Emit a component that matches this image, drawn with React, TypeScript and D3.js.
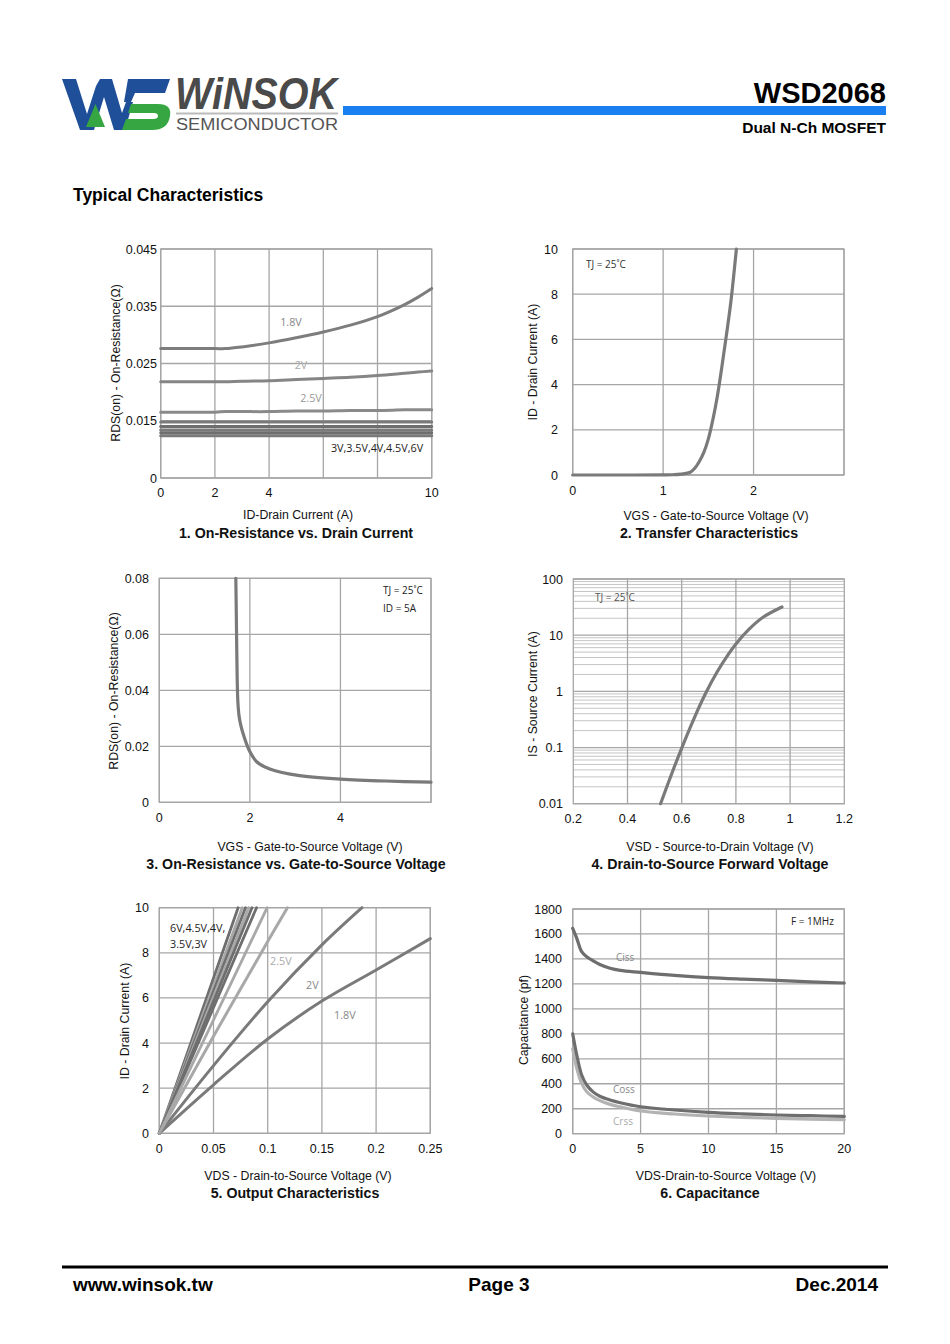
import React from 'react';
import * as d3 from 'd3';

// ---------- Chart 1: On-Resistance vs Drain Current ----------
const c1Current = [0, 1, 2, 2.4, 3, 4, 5, 6, 7, 8, 9, 9.5, 10];
const c1R18 = [0.0276, 0.0276, 0.0276, 0.0276, 0.0279, 0.0286, 0.0295, 0.0305, 0.0317, 0.0332, 0.0353, 0.0366, 0.0381];
const c1R20 = [0.0218, 0.0218, 0.0218, 0.0218, 0.0219, 0.022, 0.0222, 0.0224, 0.0226, 0.0229, 0.0233, 0.0235, 0.0237];
const c1R25 = [0.0165, 0.0165, 0.0165, 0.0166, 0.0166, 0.0166, 0.0167, 0.0167, 0.0168, 0.0168, 0.0169, 0.0169, 0.0169];
const c1R30 = [0.0148, 0.0148, 0.0148, 0.0148, 0.0148, 0.0148, 0.0148, 0.0148, 0.0148, 0.0148, 0.0148, 0.0148, 0.0148];
const c1R35 = [0.014, 0.014, 0.014, 0.014, 0.014, 0.014, 0.014, 0.014, 0.014, 0.014, 0.014, 0.014, 0.014];
const c1R40 = [0.0134, 0.0134, 0.0134, 0.0134, 0.0134, 0.0134, 0.0134, 0.0134, 0.0134, 0.0134, 0.0134, 0.0134, 0.0134];
const c1R45 = [0.0129, 0.0129, 0.0129, 0.0129, 0.0129, 0.0129, 0.0129, 0.0129, 0.0129, 0.0129, 0.0129, 0.0129, 0.0129];
const c1R60 = [0.0124, 0.0124, 0.0124, 0.0124, 0.0124, 0.0124, 0.0124, 0.0124, 0.0124, 0.0124, 0.0124, 0.0124, 0.0124];
const c1XTicks = [0, 2, 4, 10];
const c1XGrid = [0, 2, 4, 6, 8, 10];
const c1YTicks = [0.005, 0.015, 0.025, 0.035, 0.045];
const c1YLabels = ['0', '0.015', '0.025', '0.035', '0.045'];

// ---------- Chart 2: Transfer Characteristics ----------
const c2Vgs = [0, 0.5, 1.0, 1.1, 1.2, 1.3, 1.35, 1.4, 1.45, 1.5, 1.55, 1.6, 1.65, 1.7, 1.75, 1.81];
const c2Id = [0, 0, 0.005, 0.01, 0.04, 0.12, 0.3, 0.6, 1.0, 1.6, 2.45, 3.5, 4.8, 6.2, 7.7, 10];
const c2XTicks = [0, 1, 2];
const c2XGrid = [0, 1, 2, 3];
const c2YTicks = [0, 2, 4, 6, 8, 10];

// ---------- Chart 3: On-Resistance vs Gate-to-Source Voltage ----------
const c3Vgs = [1.69, 1.7, 1.71, 1.72, 1.735, 1.76, 1.8, 1.855, 1.93, 2.0, 2.15, 2.44, 3.1, 4.0, 5.0, 6.0];
const c3R = [0.08, 0.068, 0.055, 0.044, 0.036, 0.031, 0.0275, 0.0243, 0.0207, 0.0181, 0.0145, 0.0119, 0.0095, 0.0083, 0.0076, 0.0072];
const c3XTicks = [0, 2, 4];
const c3XGrid = [0, 2, 4, 6];
const c3YTicks = [0, 0.02, 0.04, 0.06, 0.08];
const c3YLabels = ['0', '0.02', '0.04', '0.06', '0.08'];

// ---------- Chart 4: Drain-to-Source Forward Voltage ----------
const c4Vsd = [0.522, 0.56, 0.6, 0.645, 0.687, 0.73, 0.772, 0.8, 0.846, 0.9, 0.97];
const c4Is = [0.01, 0.0312, 0.0977, 0.325, 0.897, 2.19, 4.56, 6.98, 12.4, 20.8, 31.7];
const c4XTicks = [0.2, 0.4, 0.6, 0.8, 1, 1.2];
const c4XLabels = ['0.2', '0.4', '0.6', '0.8', '1', '1.2'];
const c4YTicks = [0.01, 0.1, 1, 10, 100];
const c4YLabels = ['0.01', '0.1', '1', '10', '100'];

// ---------- Chart 5: Output Characteristics ----------
const c5Group = [
  { vds: [0, 0.0727], id: [0, 10], tone: 'dark' },
  { vds: [0, 0.0765], id: [0, 10], tone: 'light' },
  { vds: [0, 0.0795], id: [0, 10], tone: 'dark' },
  { vds: [0, 0.0825], id: [0, 10], tone: 'light' },
  { vds: [0, 0.0855], id: [0, 10], tone: 'dark' },
  { vds: [0, 0.0897], id: [0, 10], tone: 'dark' },
  { vds: [0, 0.0995], id: [0, 10], tone: 'light' },
];
const c5Vds25 = [0, 0.05, 0.1, 0.1182];
const c5Id25 = [0, 4.3, 8.5, 10];
const c5Vds20 = [0, 0.05, 0.1, 0.15, 0.187];
const c5Id20 = [0, 3.0, 5.83, 8.35, 10];
const c5Vds18 = [0, 0.05, 0.1, 0.15, 0.2, 0.25];
const c5Id18 = [0, 2.15, 4.18, 5.86, 7.24, 8.63];
const c5XTicks = [0, 0.05, 0.1, 0.15, 0.2, 0.25];
const c5XLabels = ['0', '0.05', '0.1', '0.15', '0.2', '0.25'];
const c5YTicks = [0, 2, 4, 6, 8, 10];

// ---------- Chart 6: Capacitance ----------
const c6Vds = [0, 0.3, 0.66, 1.03, 1.5, 2, 2.75, 3.5, 5, 7.5, 10, 12.5, 15, 17.5, 20];
const c6Ciss = [1645, 1565, 1458, 1418, 1385, 1355, 1325, 1308, 1292, 1268, 1250, 1238, 1228, 1217, 1207];
const c6Coss = [800, 630, 470, 390, 335, 300, 270, 248, 216, 190, 171, 159, 150, 144, 139];
const c6Crss = [680, 523, 403, 336, 295, 265, 235, 215, 182, 158, 142, 131, 123, 117, 112];
const c6XTicks = [0, 5, 10, 15, 20];
const c6YTicks = [0, 200, 400, 600, 800, 1000, 1200, 1400, 1600, 1800];

// ---------- styles ----------
const GRID = '#a6a6a6';
const DARK = '#7a7a7a';
const LIGHT = '#a8a8a8';
const ARIAL = '"Liberation Sans", Arial, sans-serif';
const CAL = '"Open Sans", "Noto Sans", sans-serif';

type Sc = (v: number) => number;

function pathOf(xs: number[], ys: number[], sx: Sc, sy: Sc) {
  const pts = xs.map((x, i) => [x, ys[i]] as [number, number]);
  return d3
    .line<[number, number]>()
    .x((d) => sx(d[0]))
    .y((d) => sy(d[1]))
    .curve(d3.curveCatmullRom.alpha(0.5))(pts) as string;
}

function Frame(props: { sx: any; sy: any; xGrid: number[]; yGrid: number[] }) {
  const { sx, sy, xGrid, yGrid } = props;
  const [x0, x1] = sx.range();
  const [yb, yt] = sy.range();
  return (
    <g>
      {xGrid.map((v) => (
        <line key={'x' + v} x1={sx(v)} x2={sx(v)} y1={yb} y2={yt} stroke={GRID} strokeWidth={1.3} />
      ))}
      {yGrid.map((v) => (
        <line key={'y' + v} x1={x0} x2={x1} y1={sy(v)} y2={sy(v)} stroke={GRID} strokeWidth={1.3} />
      ))}
      <rect x={x0} y={yt} width={x1 - x0} height={yb - yt} fill="none" stroke={GRID} strokeWidth={1.3} />
    </g>
  );
}

function XLabels(props: { sx: Sc; ticks: number[]; labels?: string[]; y: number }) {
  const { sx, ticks, labels, y } = props;
  return (
    <g fontFamily={ARIAL} fontSize={12.5} fill="#111" textAnchor="middle">
      {ticks.map((v, i) => (
        <text key={i} x={sx(v)} y={y}>{labels ? labels[i] : String(v)}</text>
      ))}
    </g>
  );
}

function YLabels(props: { sy: Sc; ticks: number[]; labels?: string[]; x: number }) {
  const { sy, ticks, labels, x } = props;
  return (
    <g fontFamily={ARIAL} fontSize={12.5} fill="#111" textAnchor="end">
      {ticks.map((v, i) => (
        <text key={i} x={x} y={sy(v) + 4.5}>{labels ? labels[i] : String(v)}</text>
      ))}
    </g>
  );
}

function Titles(props: {
  axis: string; axisX: number; axisY: number; title: string; titleX: number; titleY: number;
  yTitle: string; yTitleX: number; yTitleY: number;
}) {
  const p = props;
  return (
    <g fontFamily={ARIAL} fill="#111">
      <text x={p.axisX} y={p.axisY} fontSize={12.3} textAnchor="middle">{p.axis}</text>
      <text x={p.titleX} y={p.titleY} fontSize={14.2} fontWeight="bold" textAnchor="middle">{p.title}</text>
      <text transform={`translate(${p.yTitleX},${p.yTitleY}) rotate(-90)`} fontSize={12.3} textAnchor="middle">{p.yTitle}</text>
    </g>
  );
}

function Curve(props: { d: string; color: string; w?: number }) {
  return <path d={props.d} fill="none" stroke={props.color} strokeWidth={props.w ?? 3} strokeLinejoin="round" strokeLinecap="round" />;
}

function Chart1() {
  const sx = d3.scaleLinear().domain([0, 10]).range([160.7, 431.7]);
  const sy = d3.scaleLinear().domain([0.005, 0.045]).range([478, 249]);
  const series = [c1R60, c1R45, c1R40, c1R35, c1R30, c1R25, c1R20, c1R18];
  const colors = [DARK, '#6e6e6e', DARK, '#6e6e6e', DARK, '#8a8a8a', '#858585', '#7d7d7d'];
  return (
    <g>
      <Frame sx={sx} sy={sy} xGrid={c1XGrid} yGrid={c1YTicks} />
      {series.map((s, i) => (
        <Curve key={i} d={pathOf(c1Current, s, sx, sy)} color={colors[i]} w={3} />
      ))}
      <g fontFamily={CAL} fontSize={10.8}>
        <text x={291} y={326} fill="#888" textAnchor="middle">1.8V</text>
        <text x={301} y={369} fill="#aaa" textAnchor="middle">2V</text>
        <text x={311} y={402} fill="#999" textAnchor="middle">2.5V</text>
        <text x={377} y={452} fill="#222" textAnchor="middle">3V,3.5V,4V,4.5V,6V</text>
      </g>
      <YLabels sy={sy} ticks={c1YTicks} labels={c1YLabels} x={157} />
      <XLabels sx={sx} ticks={c1XTicks} y={497} />
      <Titles axis="ID-Drain Current (A)" axisX={298} axisY={519}
        title="1. On-Resistance vs. Drain Current" titleX={296} titleY={538}
        yTitle="RDS(on) - On-Resistance(Ω)" yTitleX={120} yTitleY={363} />
    </g>
  );
}

function Chart2() {
  const sx = d3.scaleLinear().domain([0, 3]).range([572.7, 844]);
  const sy = d3.scaleLinear().domain([0, 10]).range([475, 249]);
  return (
    <g>
      <Frame sx={sx} sy={sy} xGrid={c2XGrid} yGrid={c2YTicks} />
      <Curve d={pathOf(c2Vgs, c2Id, sx, sy)} color={DARK} w={3.2} />
      <text x={586} y={268} fontFamily={CAL} fontSize={10} fill="#333">TJ = 25˚C</text>
      <YLabels sy={sy} ticks={c2YTicks} x={558} />
      <XLabels sx={sx} ticks={c2XTicks} y={495} />
      <Titles axis="VGS - Gate-to-Source Voltage (V)" axisX={716} axisY={520}
        title="2. Transfer Characteristics" titleX={709} titleY={538}
        yTitle="ID - Drain Current (A)" yTitleX={537} yTitleY={362} />
    </g>
  );
}

function Chart3() {
  const sx = d3.scaleLinear().domain([0, 6]).range([159.3, 431]);
  const sy = d3.scaleLinear().domain([0, 0.08]).range([802.3, 578.3]);
  return (
    <g>
      <Frame sx={sx} sy={sy} xGrid={c3XGrid} yGrid={c3YTicks} />
      <Curve d={pathOf(c3Vgs, c3R, sx, sy)} color={DARK} w={3.2} />
      <g fontFamily={CAL} fontSize={10} fill="#222">
        <text x={383} y={594}>TJ = 25˚C</text>
        <text x={383} y={612}>ID = 5A</text>
      </g>
      <YLabels sy={sy} ticks={c3YTicks} labels={c3YLabels} x={149} />
      <XLabels sx={sx} ticks={c3XTicks} y={822} />
      <Titles axis="VGS - Gate-to-Source Voltage (V)" axisX={310} axisY={851}
        title="3. On-Resistance vs. Gate-to-Source Voltage" titleX={296} titleY={869}
        yTitle="RDS(on) - On-Resistance(Ω)" yTitleX={118} yTitleY={691} />
    </g>
  );
}

function Chart4() {
  const sx = d3.scaleLinear().domain([0.2, 1.2]).range([573.3, 844.3]);
  const sy = d3.scaleLog().domain([0.01, 100]).range([803.7, 579]);
  const minor: number[] = [];
  [0.01, 0.1, 1, 10].forEach((d) => {
    for (let k = 2; k <= 9; k++) minor.push(k * d);
  });
  const [x0, x1] = sx.range();
  return (
    <g>
      {minor.map((v, i) => (
        <line key={i} x1={x0} x2={x1} y1={sy(v)} y2={sy(v)} stroke="#bdbdbd" strokeWidth={0.9} />
      ))}
      <Frame sx={sx} sy={sy} xGrid={[0.4, 0.6, 0.8, 1.0]} yGrid={c4YTicks} />
      <Curve d={pathOf(c4Vsd, c4Is, sx, sy)} color={DARK} w={3.2} />
      <text x={595} y={601} fontFamily={CAL} fontSize={10} fill="#555">TJ = 25˚C</text>
      <YLabels sy={sy} ticks={c4YTicks} labels={c4YLabels} x={563} />
      <XLabels sx={sx} ticks={c4XTicks} labels={c4XLabels} y={823} />
      <Titles axis="VSD - Source-to-Drain Voltage (V)" axisX={720} axisY={851}
        title="4. Drain-to-Source Forward Voltage" titleX={710} titleY={869}
        yTitle="IS - Source Current (A)" yTitleX={537} yTitleY={694} />
    </g>
  );
}

function Chart5() {
  const sx = d3.scaleLinear().domain([0, 0.25]).range([159.3, 430.3]);
  const sy = d3.scaleLinear().domain([0, 10]).range([1133.3, 907.7]);
  return (
    <g>
      <Frame sx={sx} sy={sy} xGrid={c5XTicks} yGrid={c5YTicks} />
      <Curve d={pathOf(c5Vds18, c5Id18, sx, sy)} color={DARK} w={3} />
      <Curve d={pathOf(c5Vds20, c5Id20, sx, sy)} color={DARK} w={3} />
      <Curve d={pathOf(c5Vds25, c5Id25, sx, sy)} color={LIGHT} w={3} />
      {c5Group.map((g, i) => (
        <Curve key={i} d={pathOf(g.vds, g.id, sx, sy)} color={g.tone === 'dark' ? '#6e6e6e' : LIGHT} w={2.8} />
      ))}
      <g fontFamily={CAL} fontSize={10.8}>
        <text x={170} y={932} fill="#222">6V,4.5V,4V,</text>
        <text x={170} y={948} fill="#222">3.5V,3V</text>
        <text x={270} y={965} fill="#aaa">2.5V</text>
        <text x={306} y={989} fill="#888">2V</text>
        <text x={334} y={1019} fill="#888">1.8V</text>
      </g>
      <YLabels sy={sy} ticks={c5YTicks} x={149} />
      <XLabels sx={sx} ticks={c5XTicks} labels={c5XLabels} y={1153} />
      <Titles axis="VDS - Drain-to-Source Voltage (V)" axisX={298} axisY={1180}
        title="5. Output Characteristics" titleX={295} titleY={1198}
        yTitle="ID - Drain Current (A)" yTitleX={129} yTitleY={1021} />
    </g>
  );
}

function Chart6() {
  const sx = d3.scaleLinear().domain([0, 20]).range([572.7, 844.3]);
  const sy = d3.scaleLinear().domain([0, 1800]).range([1133.7, 909]);
  return (
    <g>
      <Frame sx={sx} sy={sy} xGrid={c6XTicks} yGrid={c6YTicks} />
      <Curve d={pathOf(c6Vds, c6Crss, sx, sy)} color="#b3b3b3" w={3.2} />
      <Curve d={pathOf(c6Vds, c6Coss, sx, sy)} color="#6e6e6e" w={3.2} />
      <Curve d={pathOf(c6Vds, c6Ciss, sx, sy)} color="#6e6e6e" w={3.2} />
      <g fontFamily={CAL} fontSize={10}>
        <text x={791} y={925} fill="#222">F = 1MHz</text>
        <text x={616} y={961} fill="#888">Ciss</text>
        <text x={613} y={1093} fill="#888">Coss</text>
        <text x={613} y={1125} fill="#aaa">Crss</text>
      </g>
      <YLabels sy={sy} ticks={c6YTicks} x={562} />
      <XLabels sx={sx} ticks={c6XTicks} y={1153} />
      <Titles axis="VDS-Drain-to-Source Voltage (V)" axisX={726} axisY={1180}
        title="6. Capacitance" titleX={710} titleY={1198}
        yTitle="Capacitance (pf)" yTitleX={528} yTitleY={1020} />
    </g>
  );
}

function Header() {
  const BLUE = '#1f4f99';
  const GREEN = '#35a641';
  return (
    <g>
      {/* W */}
      <path d="M62,79 L76,79 L87,114 L96,86 L100,79 L112,79 L122,113 L126,102 L133,102 L125,130 L114,130 L104,97 L94,130 L80,130 Z" fill={BLUE} />
      <path d="M86,127 L95.5,104 L105,127 Z" fill={GREEN} />
      {/* S */}
      <path d="M128,79 L170,79 L165,93 L135,93 L131,102 L124,102 Z" fill={BLUE} />
      <path d="M131,104 L158,104 Q172,104 170,116 Q168,130 152,130 L122,130 L126,119 L153,119 Q158,119 158,116 Q158,113 154,113 L128,113 Z" fill={GREEN} />
      <text x={175} y={109} fontFamily={ARIAL} fontStyle="italic" fontWeight="bold" fontSize={44} fill="#4a4a4a"
        textLength={162} lengthAdjust="spacingAndGlyphs">WiNSOK</text>
      <line x1={176} x2={338} y1={113.5} y2={113.5} stroke="#bbbbbb" strokeWidth={2} />
      <text x={176} y={129.5} fontFamily={ARIAL} fontSize={16} fill="#555" textLength={162}
        lengthAdjust="spacingAndGlyphs">SEMICONDUCTOR</text>
      <rect x={343} y={106} width={543} height={9} fill="#1a7ff0" />
      <text x={886} y={103} fontFamily={ARIAL} fontWeight="bold" fontSize={29} fill="#000" textAnchor="end">WSD2068</text>
      <text x={886} y={133} fontFamily={ARIAL} fontWeight="bold" fontSize={15.5} fill="#000" textAnchor="end">Dual N-Ch MOSFET</text>
      <text x={73} y={201} fontFamily={ARIAL} fontWeight="bold" fontSize={17.5} fill="#000">Typical Characteristics</text>
    </g>
  );
}

function Footer() {
  return (
    <g fontFamily={ARIAL} fontWeight="bold" fontSize={19} fill="#000">
      <line x1={62} x2={888} y1={1267} y2={1267} stroke="#000" strokeWidth={3} />
      <text x={73} y={1291}>www.winsok.tw</text>
      <text x={499} y={1291} textAnchor="middle">Page 3</text>
      <text x={878} y={1291} textAnchor="end">Dec.2014</text>
    </g>
  );
}

export default function App() {
  return (
    <svg width={950} height={1344} viewBox="0 0 950 1344"
      style={{ position: 'absolute', left: 0, top: 0, background: '#fff' }}>
      <rect x={0} y={0} width={950} height={1344} fill="#fff" />
      <Header />
      <Chart1 />
      <Chart2 />
      <Chart3 />
      <Chart4 />
      <Chart5 />
      <Chart6 />
      <Footer />
    </svg>
  );
}
